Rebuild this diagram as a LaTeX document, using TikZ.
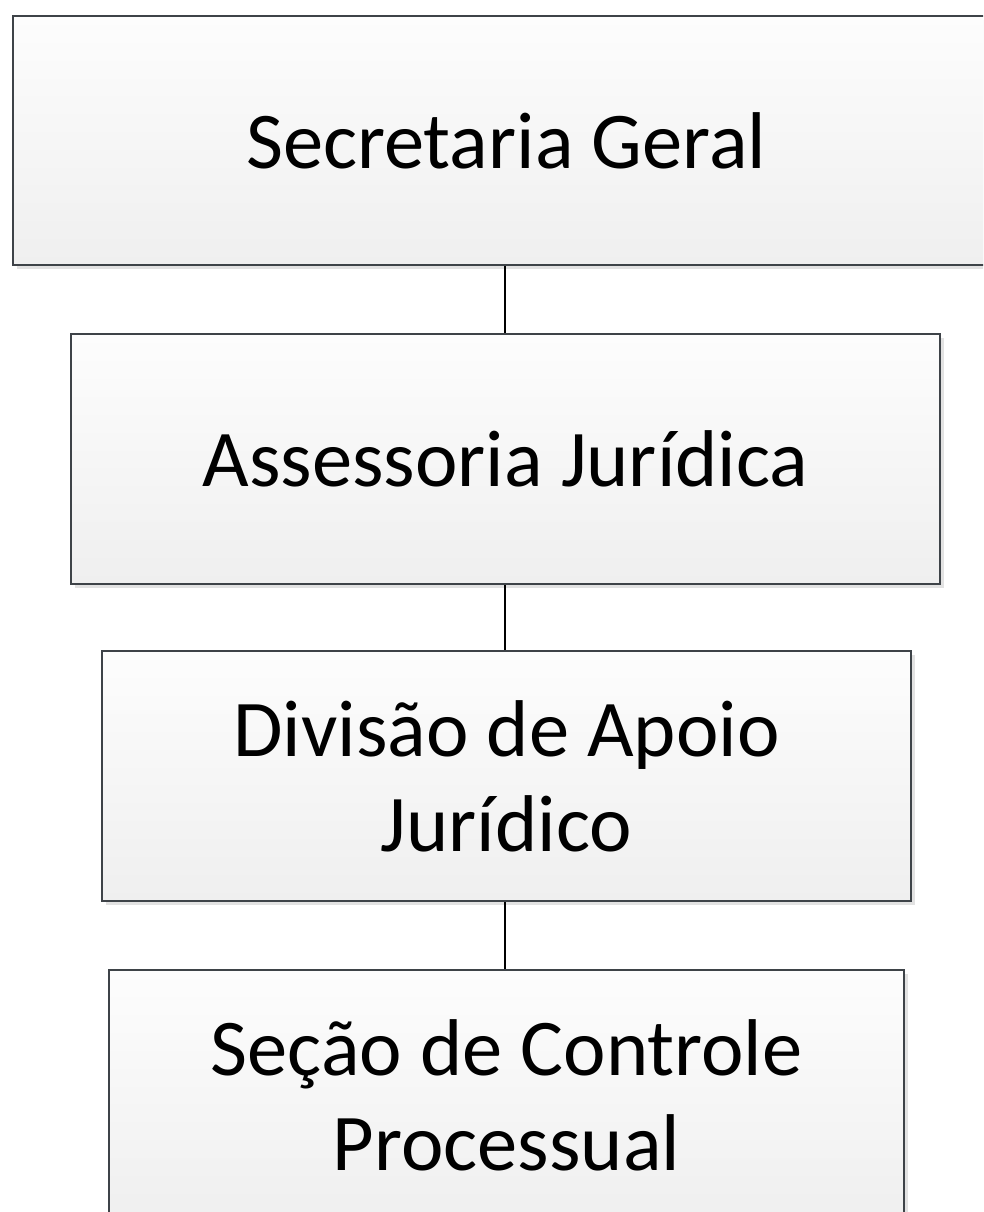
\documentclass[tikz,border=0pt]{standalone}
\usepackage{fontspec}
\setmainfont{Carlito}
\usetikzlibrary{shadows}
\definecolor{boxline}{RGB}{62,67,72}
\definecolor{boxbot}{RGB}{239,239,239}
\definecolor{boxtop}{RGB}{253,253,253}
\definecolor{shadowc}{RGB}{226,226,226}
\tikzset{
  orgbox/.style={rectangle, draw=boxline, line width=2pt, top color=boxtop, bottom color=boxbot,
    inner sep=0pt, align=center, font=\fontsize{80.5}{95}\selectfont,
    drop shadow={shadow xshift=4pt, shadow yshift=-4pt, fill=shadowc, opacity=1}},
  link/.style={draw=black, line width=2pt}
}
\begin{document}
\begin{tikzpicture}[x=1pt,y=-1pt]
\useasboundingbox (0,0) rectangle (983,1212);
\clip (0,0) rectangle (983,1212);
\node[orgbox, minimum width=986pt, minimum height=249pt] (sg) at (506,140.5) {Secretaria Geral};
\node[orgbox, minimum width=869pt, minimum height=250pt] (aj) at (505.5,459) {Assessoria Jurídica};
\node[orgbox, minimum width=809pt, minimum height=250pt] (da) at (506.5,776) {Divisão de Apoio\\Jurídico};
\node[orgbox, minimum width=795pt, minimum height=250pt] (sc) at (506.5,1095) {Seção de Controle\\Processual};
\draw[link] (sg.south -| 505,0) -- (aj.north -| 505,0);
\draw[link] (aj.south -| 505,0) -- (da.north -| 505,0);
\draw[link] (da.south -| 505,0) -- (sc.north -| 505,0);
\end{tikzpicture}
\end{document}
